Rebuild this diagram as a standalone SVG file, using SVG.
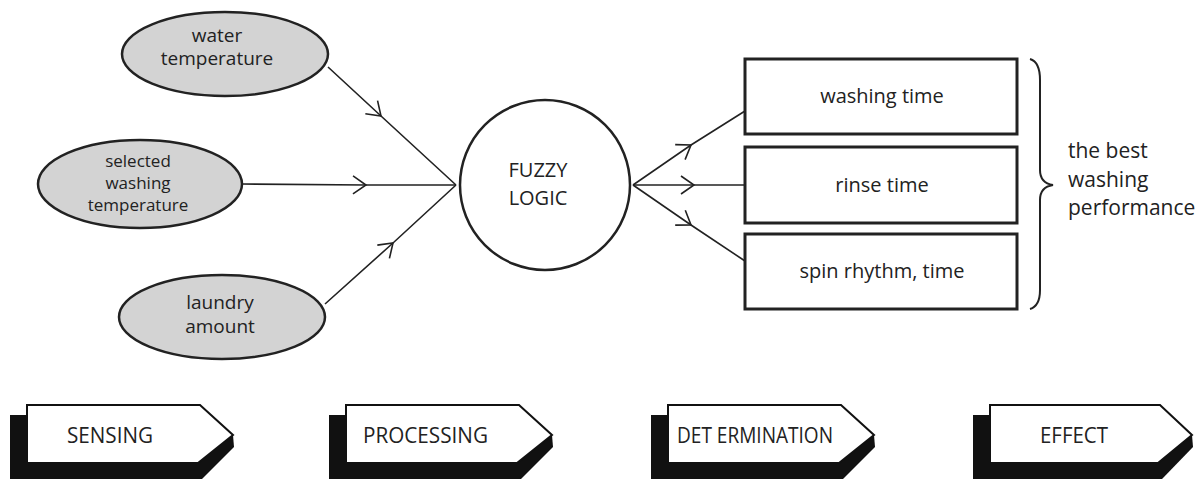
<svg xmlns="http://www.w3.org/2000/svg" width="1196" height="484" viewBox="0 0 1196 484">
<style>
text{font-family:"Open Sans","Noto Sans",sans-serif;fill:#222;text-anchor:middle}
.ell{fill:#d3d3d3;stroke:#222;stroke-width:2.5}
.box{fill:#fff;stroke:#222;stroke-width:3}
.ln{fill:none;stroke:#222;stroke-width:1.6;marker-mid:url(#chev)}
.sh{fill:#111}
.wh{fill:#fff;stroke:#111;stroke-width:2}
.st{font-size:21px;text-anchor:start}
</style>
<defs>
<marker id="chev" markerUnits="userSpaceOnUse" markerWidth="30" markerHeight="30" viewBox="-20 -15 30 30" refX="0" refY="0" orient="auto">
<path d="M-13,-9 L0,0 L-13,9" fill="none" stroke="#222" stroke-width="1.6"/>
</marker>
</defs>
<g id="connectors">
<path class="ln" d="M328,67 L381,116 L456,185"/>
<path class="ln" d="M242,184 L366,185 L456,185"/>
<path class="ln" d="M325,304 L393,243 L456,185"/>
<path class="ln" d="M633,185 L691,145 L745,111"/>
<path class="ln" d="M633,185 L694,185 L745,185"/>
<path class="ln" d="M633,185 L691,225 L745,261"/>
</g>
<g id="water">
<ellipse class="ell" cx="225" cy="54" rx="103" ry="42"/>
<text x="217" y="42" font-size="19">water</text>
<text x="217" y="65" font-size="19">temperature</text>
</g>
<g id="selected">
<ellipse class="ell" cx="140" cy="184" rx="102" ry="44"/>
<text x="138" y="167" font-size="17">selected</text>
<text x="138" y="189" font-size="17">washing</text>
<text x="138" y="211" font-size="17">temperature</text>
</g>
<g id="laundry">
<ellipse class="ell" cx="222" cy="317" rx="103" ry="42"/>
<text x="220" y="309" font-size="19">laundry</text>
<text x="220" y="333" font-size="19">amount</text>
</g>
<g id="fuzzy">
<circle cx="545" cy="185" r="85" fill="#fff" stroke="#222" stroke-width="2.5"/>
<text x="538" y="177" font-size="20">FUZZY</text>
<text x="538" y="205" font-size="20">LOGIC</text>
</g>
<g id="washing-time">
<rect class="box" x="745" y="59" width="272" height="75"/>
<text x="882" y="103" font-size="20">washing time</text>
</g>
<g id="rinse-time">
<rect class="box" x="745" y="147" width="272" height="76"/>
<text x="882" y="192" font-size="20">rinse time</text>
</g>
<g id="spin">
<rect class="box" x="745" y="234" width="272" height="75"/>
<text x="882" y="278" font-size="20">spin rhythm, time</text>
</g>
<g id="effect-label">
<path d="M1030,59 Q1040,62 1040,80 L1040,170 Q1040,183 1053,185 Q1040,187 1040,200 L1040,290 Q1040,306 1030,309" fill="none" stroke="#222" stroke-width="2"/>
<text class="st" x="1068" y="158" font-size="19">the best</text>
<text class="st" x="1068" y="187" font-size="19">washing</text>
<text class="st" x="1068" y="215" font-size="19">performance</text>
</g>
<g id="sensing">
<polygon class="sh" points="10,415 190,415 233,435 234,447 202,479 10,479"/>
<polygon class="wh" points="27,405 200,405 233,435 198,463 27,463"/>
<text class="st" x="67" y="443" textLength="86" lengthAdjust="spacingAndGlyphs">SENSING</text>
</g>
<g id="processing">
<polygon class="sh" points="329,415 509,415 552,435 553,447 521,479 329,479"/>
<polygon class="wh" points="346,405 519,405 552,435 517,463 346,463"/>
<text class="st" x="363" y="443" textLength="125" lengthAdjust="spacingAndGlyphs">PROCESSING</text>
</g>
<g id="determination">
<polygon class="sh" points="651,415 831,415 874,435 875,447 843,479 651,479"/>
<polygon class="wh" points="668,405 841,405 874,435 839,463 668,463"/>
<text class="st" x="677" y="443" textLength="156" lengthAdjust="spacingAndGlyphs">DET ERMINATION</text>
</g>
<g id="effect">
<polygon class="sh" points="973,415 1150,415 1192,435 1193,447 1162,479 973,479"/>
<polygon class="wh" points="990,405 1160,405 1192,435 1158,463 990,463"/>
<text class="st" x="1040" y="443" textLength="68" lengthAdjust="spacingAndGlyphs">EFFECT</text>
</g>
</svg>
